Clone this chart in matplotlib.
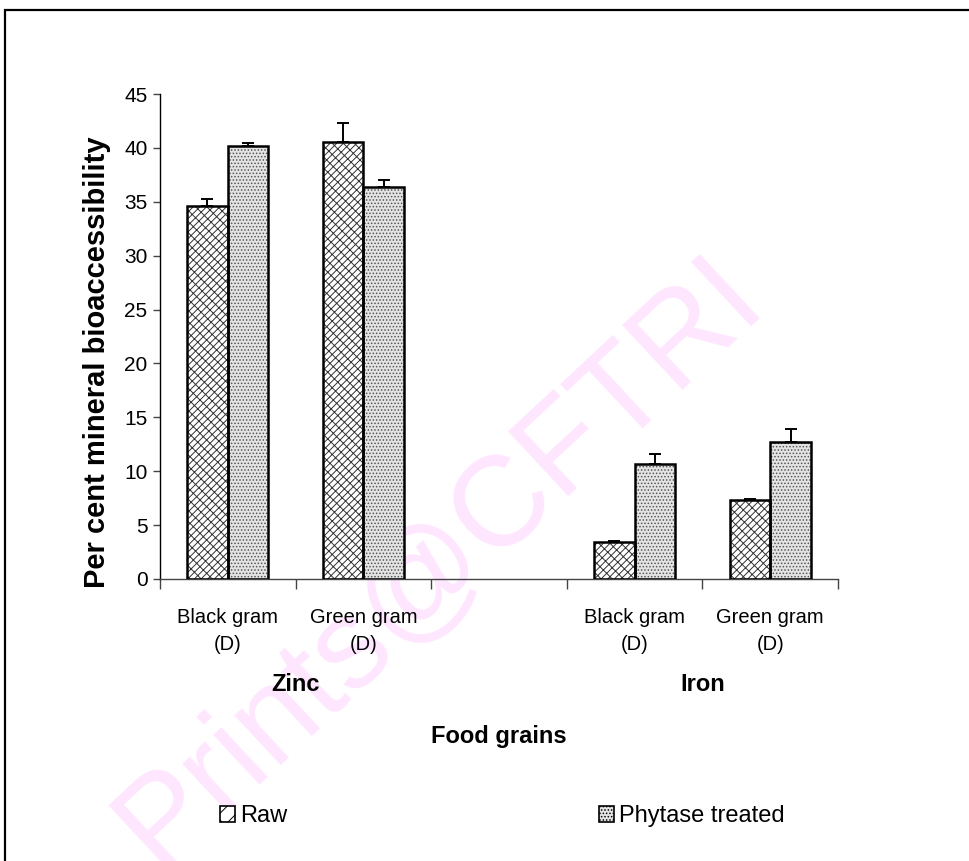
import matplotlib
matplotlib.use("Agg")
import matplotlib.pyplot as plt
import numpy as np
from matplotlib.patches import Rectangle, Patch

# ---- data ----
minerals = ["Zinc", "Iron"]
slot_labels = ["Black gram\n(D)", "Green gram\n(D)", "", "Black gram\n(D)", "Green gram\n(D)"]
bar_slots = [0, 1, 3, 4]
raw = [34.6, 40.5, 3.4, 7.3]
raw_err = [0.65, 1.8, 0.08, 0.1]
phytase = [40.15, 36.4, 10.7, 12.75]
phytase_err = [0.3, 0.65, 0.9, 1.15]
series_names = ["Raw", "Phytase treated"]
yticks = [0, 5, 10, 15, 20, 25, 30, 35, 40, 45]

plt.rcParams['font.family'] = ['Liberation Sans', 'DejaVu Sans']
plt.rcParams['hatch.linewidth'] = 0.7

RAW_HATCH = "/////" + "\\" * 3
PHY_HATCH = "....."

W, H = 969, 861
fig = plt.figure(figsize=(W / 100, H / 100), dpi=100)

# watermark
fig.text(440 / W, 1 - 562 / H, "Prints@CFTRI", fontsize=92, color="#ffe6ff",
         rotation=43, ha="center", va="center", zorder=-5)

# outer frame
fig.patches.append(Rectangle((5 / W, -0.05), 1.2, 1 - 10 / H + 0.05, transform=fig.transFigure,
                             fill=False, edgecolor="black", linewidth=1.6, zorder=5))

ax = fig.add_axes([160 / W, 1 - 579 / H, (838 - 160) / W, (579 - 94) / H])
ax.patch.set_alpha(0)
ax.set_zorder(1)

x = np.array(bar_slots, dtype=float)
bw = 0.3
# hatched fills
ax.bar(x - bw / 2, raw, bw, color="white", edgecolor="#333333", hatch=RAW_HATCH, linewidth=0, zorder=2)
ax.bar(x + bw / 2, phytase, bw, color="#e4e4e4", edgecolor="#555555", hatch=PHY_HATCH, linewidth=0, zorder=2)
# outlines
ax.bar(x - bw / 2, raw, bw, fill=False, edgecolor="black", linewidth=1.8, zorder=3)
ax.bar(x + bw / 2, phytase, bw, fill=False, edgecolor="black", linewidth=1.8, zorder=3)
# upper error bars
ax.errorbar(x - bw / 2, raw, yerr=[np.zeros(len(raw)), raw_err], fmt="none",
            ecolor="black", elinewidth=1.4, capsize=4, capthick=1.4, zorder=4)
ax.errorbar(x + bw / 2, phytase, yerr=[np.zeros(len(phytase)), phytase_err], fmt="none",
            ecolor="black", elinewidth=1.4, capsize=4, capthick=1.4, zorder=4)

ax.set_xlim(-0.5, 4.5)
ax.set_ylim(0, 45)
ax.set_yticks(yticks)
ax.set_yticklabels([str(v) for v in yticks], fontsize=15)
ax.tick_params(axis="y", length=5, width=1, color="#444444", pad=4)

ax.set_xticks(np.arange(-0.5, 5.0, 1.0))
ax.set_xticklabels([])
ax.set_xticks(np.arange(len(slot_labels)), minor=True)
ax.set_xticklabels(slot_labels, minor=True, fontsize=14.5, linespacing=1.55)
ax.tick_params(axis="x", which="major", length=7, width=1, color="#444444", direction="out")
ax.tick_params(axis="x", which="minor", length=0, pad=21)

for s in ["top", "right"]:
    ax.spines[s].set_visible(False)
ax.spines["left"].set_linewidth(1)
ax.spines["bottom"].set_linewidth(1)
ax.spines["bottom"].set_color("#444444")

# mineral group labels
for i, m in enumerate(minerals):
    cx = np.mean(bar_slots[2 * i:2 * i + 2])
    ax.text(cx, -0.217, m, transform=ax.get_xaxis_transform(), ha="center", va="center",
            fontsize=17, fontweight="bold")

ax.text(0.5, -0.324, "Food grains", transform=ax.transAxes, ha="center", va="center",
        fontsize=17, fontweight="bold")

fig.text(97 / W, 1 - 362 / H, "Per cent mineral bioaccessibility", rotation=90,
         ha="center", va="center", fontsize=21, fontweight="bold")

handles = [Patch(facecolor="white", edgecolor="black", hatch="//" + "\\", linewidth=1.2),
           Patch(facecolor="#e4e4e4", edgecolor="black", hatch=PHY_HATCH, linewidth=1.2)]
fig.legend(handles, series_names, loc="center left", bbox_to_anchor=(220 / W, 1 - 816 / H),
           ncol=2, frameon=False, fontsize=17, handlelength=0.65, handleheight=0.65,
           handletextpad=0.2, columnspacing=13.2, borderaxespad=0, borderpad=0)

fig.savefig("out.png", dpi=100)
